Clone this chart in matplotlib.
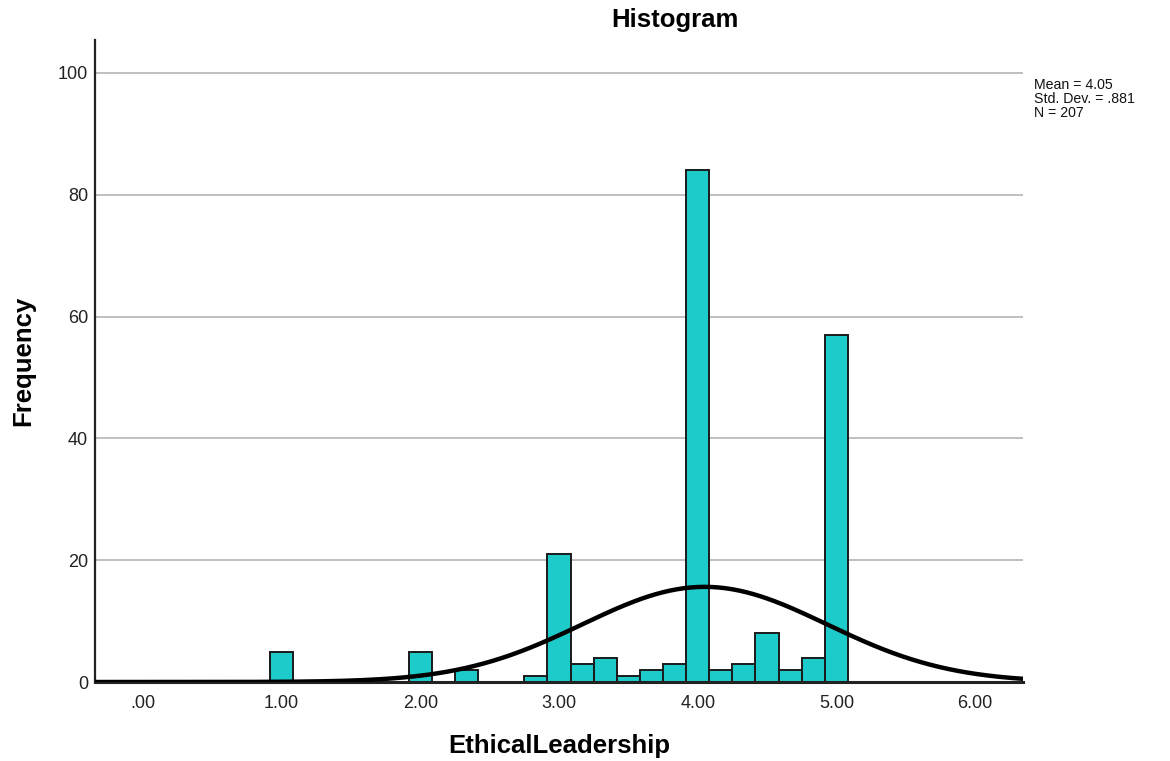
import numpy as np
import matplotlib
matplotlib.use("Agg")
import matplotlib.pyplot as plt

plt.rcParams["font.family"] = ["Liberation Sans", "DejaVu Sans"]

# score bins (width 1/6) and frequencies
bin_centers = [1.0, 2.0, 2.3333, 2.8333, 3.0, 3.1667, 3.3333, 3.5, 3.6667,
               3.8333, 4.0, 4.1667, 4.3333, 4.5, 4.6667, 4.8333, 5.0]
counts = [5, 5, 2, 1, 21, 3, 4, 1, 2, 3, 84, 2, 3, 8, 2, 4, 57]
bin_width = 1 / 6

mean = 4.05
std_dev = 0.881
n_total = 207

x_ticks = [0, 1, 2, 3, 4, 5, 6]
x_tick_labels = [".00", "1.00", "2.00", "3.00", "4.00", "5.00", "6.00"]
y_ticks = [0, 20, 40, 60, 80, 100]

_BAR = "#1ecbcb"
_GRID = "#b4b4b4"

fig = plt.figure(figsize=(11.7, 7.61), dpi=100)
ax = fig.add_axes([0.0812, 0.1038, 0.7932, 0.8436])

ax.set_xlim(-0.346, 6.346)
ax.set_ylim(0, 105.4)

for y in y_ticks[1:]:
    ax.axhline(y, color=_GRID, linewidth=1.2, zorder=0)

ax.bar(bin_centers, counts, width=bin_width, color=_BAR,
       edgecolor="#1a1a1a", linewidth=1.4, zorder=2)

# fitted normal curve scaled to counts
xs = np.linspace(-0.346, 6.346, 400)
pdf = np.exp(-0.5 * ((xs - mean) / std_dev) ** 2) / (std_dev * np.sqrt(2 * np.pi))
ax.plot(xs, n_total * bin_width * pdf, color="black", linewidth=3.2,
        zorder=3, solid_capstyle="butt")

ax.set_xticks(x_ticks)
ax.set_xticklabels(x_tick_labels)
ax.set_yticks(y_ticks)
ax.tick_params(length=0, labelsize=13, colors="#222222")
ax.tick_params(axis="x", pad=9)
ax.tick_params(axis="y", pad=5)

for side in ("top", "right"):
    ax.spines[side].set_visible(False)
ax.spines["left"].set_color("#222222")
ax.spines["left"].set_linewidth(1.6)
ax.spines["bottom"].set_color("#222222")
ax.spines["bottom"].set_linewidth(2.2)

ax.set_xlabel("EthicalLeadership", fontsize=18.5, fontweight="bold", labelpad=16)
ax.set_ylabel("Frequency", fontsize=18.5, fontweight="bold", labelpad=16)
fig.text(675 / 1170, 1 - 20 / 761, "Histogram", fontsize=18.5, fontweight="bold",
         ha="center", va="center")

fig.text(0.8838, 0.897, f"Mean = {mean:.2f}\nStd. Dev. = .881\nN = {n_total}",
         fontsize=10.2, va="top", ha="left", linespacing=1.0, color="#111111")

fig.savefig("out.png", dpi=100)
